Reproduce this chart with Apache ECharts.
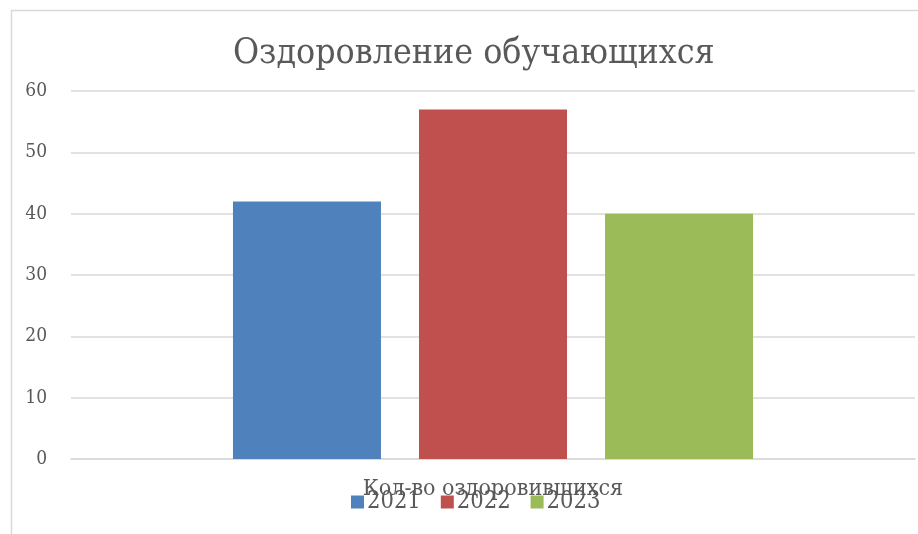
<!DOCTYPE html>
<html>
<head>
<meta charset="utf-8">
<script src="https://cdn.jsdelivr.net/npm/echarts@6/dist/echarts.min.js"></script>
<style>html,body{margin:0;padding:0;background:#fff}#c{width:918px;height:534px}</style>
</head>
<body>
<div id="c"></div>
<script>
const titleText = 'Оздоровление обучающихся';
const categories = ['Кол-во оздоровившихся'];
const seriesNames = ['2021', '2022', '2023'];
const values2021 = [42];
const values2022 = [57];
const values2023 = [40];
const colors = ['#4F81BD', '#C0504D', '#9BBB59'];
const yTicks = {min: 0, max: 60, interval: 10};

const font = '"DejaVu Serif Condensed", "DejaVu Serif", serif';
const seriesValues = [values2021, values2022, values2023];

const chart = echarts.init(document.getElementById('c'));
chart.setOption({
  animation: false,
  backgroundColor: '#fff',
  graphic: [{
    type: 'rect', left: 9, top: 8, silent: true,
    shape: {width: 1000, height: 1000},
    style: {fill: 'none', stroke: '#d9d9d9', lineWidth: 1.5}
  }],
  title: {
    text: titleText, left: 228, top: 31,
    textStyle: {fontFamily: font, fontSize: 35.4, fontWeight: 'normal', color: '#595959'}
  },
  legend: {
    data: seriesNames, bottom: 15, left: 346,
    itemWidth: 13, itemHeight: 13, itemGap: 20,
    icon: 'rect',
    textStyle: {fontFamily: font, fontSize: 23.5, color: '#595959', padding: [0, 0, 0, -2]}
  },
  grid: {left: 71, right: 3, top: 91, bottom: 75},
  xAxis: {
    type: 'category', data: categories,
    axisLine: {lineStyle: {color: '#d9d9d9', width: 1.5}},
    axisTick: {show: false},
    axisLabel: {fontFamily: font, fontSize: 23, color: '#595959', margin: 19}
  },
  yAxis: {
    type: 'value', min: yTicks.min, max: yTicks.max, interval: yTicks.interval,
    axisLine: {show: false}, axisTick: {show: false},
    splitLine: {lineStyle: {color: '#d9d9d9', width: 1.5}},
    axisLabel: {fontFamily: font, fontSize: 19, color: '#595959', margin: 24}
  },
  series: seriesNames.map((n, i) => ({
    name: n, type: 'bar', data: seriesValues[i],
    barWidth: 148, barGap: '25.7%',
    itemStyle: {color: colors[i]}
  }))
});
</script>
</body>
</html>
